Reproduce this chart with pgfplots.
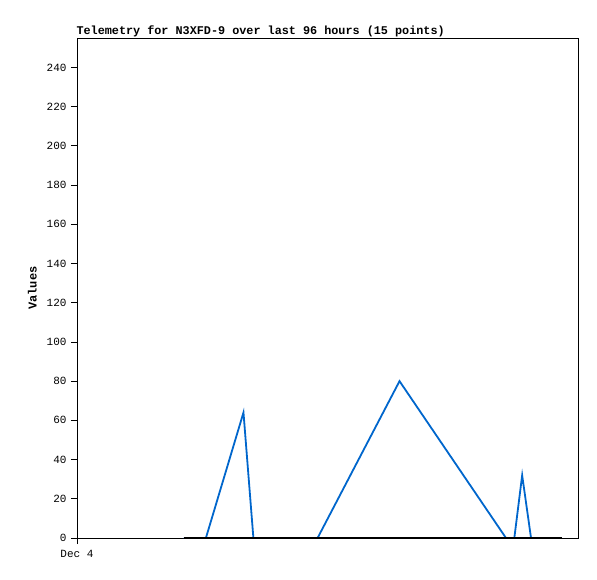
\documentclass[border=0pt]{standalone}
\usepackage{fontspec}
\setmainfont{Liberation Mono}
\usepackage{pgfplots}
\pgfplotsset{compat=1.18}
\definecolor{lineblue}{RGB}{0,102,204}
\begin{document}
\begin{tikzpicture}
\begin{axis}[
    scale only axis,
    width=501pt, height=500pt,
    xmin=0, xmax=96,
    ymin=0, ymax=255,
    xtick={0}, xticklabels={Dec 4},
    ytick={0,20,...,240},
    tick align=outside,
    major tick length=6pt,
    xtick pos=bottom, ytick pos=left,
    tick style={black, line width=0.8pt},
    axis line style={line width=0.8pt},
    /pgf/number format/assume math mode=true,
    tick label style={font=\fontsize{11}{13}\selectfont},
    yticklabel style={xshift=-1pt},
    xticklabel style={yshift=-3pt},
    ylabel={\textbf{Values}},
    ylabel style={font=\fontsize{12}{14}\selectfont, yshift=3pt},
    title={\textbf{Telemetry for N3XFD-9 over last 96 hours (15 points)}},
    title style={font=\fontsize{11.8}{14}\selectfont, anchor=south west, at={(rel axis cs:0,1)}, xshift=-4pt, yshift=-8pt},
    clip=false,
]
\coordinate (bl) at (rel axis cs:0,0);
\coordinate (tr) at (rel axis cs:1,1);
\addplot[lineblue, line width=1.8pt, line join=miter] coordinates {
    (20.5,0) (24.7,0) (31.9,64) (33.8,0) (46.1,0) (61.8,80)
    (82.2,0) (83.8,0) (85.3,32) (87.0,0) (92.9,0)
};
\addplot[black, line width=2pt] coordinates {(20.5,0) (92.9,0)};
\end{axis}
\pgfresetboundingbox
\path ([shift={(-77pt,-41pt)}]bl) rectangle ([shift={(19pt,38pt)}]tr);
\end{tikzpicture}
\end{document}
